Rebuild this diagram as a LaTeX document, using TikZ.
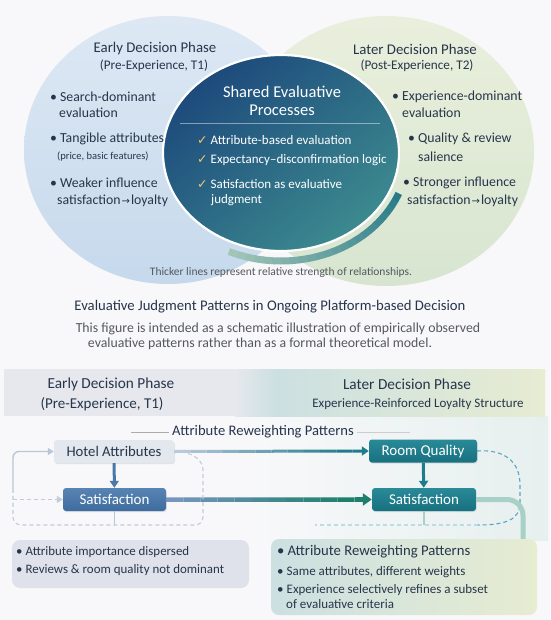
\documentclass[tikz,border=0pt]{standalone}
\usepackage{fontspec}
\setmainfont{Carlito}
\newfontfamily\symfont{DejaVu Sans}
\usetikzlibrary{shapes.geometric,arrows.meta,calc,shadows}

\definecolor{paper}{HTML}{F8F8FA}
\definecolor{ink}{HTML}{27354B}
\definecolor{greyink}{HTML}{54585E}
\definecolor{earlyA}{HTML}{DDE8F4}
\definecolor{earlyB}{HTML}{C6D9EC}
\definecolor{laterA}{HTML}{E9EFDA}
\definecolor{laterB}{HTML}{D4E4CC}
\definecolor{sharedA}{HTML}{1D4A7C}
\definecolor{sharedM}{HTML}{2A6790}
\definecolor{sharedB}{HTML}{3C8A8F}
\definecolor{arcteal}{HTML}{287A88}
\definecolor{tickgold}{HTML}{F2C66C}
\definecolor{steel}{HTML}{4A78A8}
\definecolor{steelA}{HTML}{5884B3}
\definecolor{steelB}{HTML}{3F6C9E}
\definecolor{tealbox}{HTML}{1F7C8C}
\definecolor{tealA}{HTML}{2A8A98}
\definecolor{tealB}{HTML}{17707F}
\definecolor{greenteal}{HTML}{1E7F6C}
\definecolor{paleblue}{HTML}{B8C8DA}
\definecolor{dashgrey}{HTML}{C3CCD8}
\definecolor{midblue}{HTML}{7696BD}
\definecolor{dashteal}{HTML}{55A6C6}
\definecolor{paleteal}{HTML}{A9D0C6}
\definecolor{boxgrey}{HTML}{DFE2EA}
\definecolor{bandgrey}{HTML}{E6E8EE}
\definecolor{bandteal}{HTML}{CCE0E1}
\definecolor{bandgreen}{HTML}{E7ECD2}
\definecolor{hotelfill}{HTML}{E3E7EE}
\definecolor{washteal}{HTML}{E6F0EE}

\begin{document}
\begin{tikzpicture}[x=1pt, y=-1pt,
  phase title/.style = {text=ink, font=\fontsize{14.8}{16}\selectfont},
  phase sub/.style   = {text=ink, font=\fontsize{13.2}{15}\selectfont},
  item text/.style   = {text=ink, anchor=west, inner sep=0pt, font=\fontsize{13.8}{16}\selectfont},
  item note/.style   = {text=ink, anchor=west, inner sep=0pt, font=\fontsize{10.5}{12}\selectfont},
  shared title/.style= {text=white, align=center, font=\fontsize{16.5}{18}\selectfont},
  check text/.style  = {text=white, anchor=west, inner sep=0pt, font=\fontsize{13}{15}\selectfont},
  flow box/.style    = {rounded corners=3pt, minimum height=23pt, inner sep=0pt,
                        font=\fontsize{15}{16}\selectfont,
                        drop shadow={opacity=0.18, shadow xshift=0.8pt, shadow yshift=-1.2pt}},
  list text/.style   = {text=ink, anchor=west, inner sep=0pt, font=\fontsize{12.9}{15}\selectfont},
  pale edge/.style   = {line width=1.4pt, paleblue},
  pale dash/.style   = {line width=1.1pt, dashgrey, dash pattern=on 4pt off 3pt},
  teal dash/.style   = {line width=1.1pt, dashteal, dash pattern=on 4pt off 3pt},
  fat tip/.style     = {-{Triangle[length=7pt, width=9pt]}},
  thin tip/.style    = {-{Triangle[length=6pt, width=7pt]}}]
\useasboundingbox (0,0) rectangle (550,620);
\fill[paper] (0,0) rectangle (550,620);

% upper part: the two phases and the shared core
\node[ellipse, minimum width=288pt, minimum height=268pt, top color=earlyA, bottom color=earlyB] (early) at (168,150) {};
\node[ellipse, minimum width=296pt, minimum height=270pt, top color=laterA, bottom color=laterB, opacity=0.9] (later) at (386,151) {};
\node[ellipse, draw=white, line width=2.2pt, minimum width=236pt, minimum height=196pt,
  top color=sharedA, middle color=sharedM, bottom color=sharedB, shading angle=40] (shared) at (281,153) {};
\foreach \a in {22,26,...,110}
  { \pgfmathtruncatemacro\p{100-(\a-22)*0.8}
    \draw[line width=7pt, arcteal!\p!laterB] ($(shared.center)+({127*cos(\a)},{108*sin(\a)})$)
      arc[start angle=\a, end angle=\a+4.2, x radius=127, y radius=108]; }

\node[phase title] (earlyT) at (155,49) {Early Decision Phase};
\node[phase sub] (earlyS) at (154,66) {(Pre-Experience, T1)};
\node[item text] (e1) at (50,97) {\textbullet\hspace{3pt}Search-dominant};
\node[item text] (e1b) at (59,113) {evaluation};
\node[item text] (e2) at (50,139) {\textbullet\hspace{3pt}Tangible attributes};
\node[item note] (e2b) at (57,157) {(price, basic features)};
\node[item text] (e3) at (50,183) {\textbullet\hspace{3pt}Weaker influence};
\node[item text] (e3b) at (57,201) {satisfaction\hspace{1pt}{\symfont\fontsize{10}{10}\selectfont →}\hspace{1pt}loyalty};

\node[phase title] (laterT) at (415,49) {Later Decision Phase};
\node[phase sub] (laterS) at (417,66) {(Post-Experience, T2)};
\node[item text] (l1) at (392,97) {\textbullet\hspace{3pt}Experience-dominant};
\node[item text] (l1b) at (402,113) {evaluation};
\node[item text] (l2) at (408,139) {\textbullet\hspace{3pt}Quality \& review};
\node[item text] (l2b) at (418,157) {salience};
\node[item text] (l3) at (403,183) {\textbullet\hspace{3pt}Stronger influence};
\node[item text] (l3b) at (407,201) {satisfaction\hspace{1pt}{\symfont\fontsize{10}{10}\selectfont →}\hspace{1pt}loyalty};

\node[shared title] (sharedT) at (282,101) {Shared Evaluative\\Processes};
\draw[white, opacity=0.45, line width=0.6pt] (180,123) -- (380,123);
\foreach \t/\y in {Attribute-based evaluation/140, Expectancy–disconfirmation logic/160, Satisfaction as evaluative/184}
  { \node[check text] at (197,\y) {{\symfont\color{tickgold}\fontsize{12.5}{13}\selectfont ✓}\hspace{3pt}\t}; }
\node[check text] (c3b) at (211,200) {judgment};

\node[text=greyink, font=\fontsize{11.5}{13}\selectfont] (note) at (281,272) {Thicker lines represent relative strength of relationships.};

% caption
\node[text=ink, font=\fontsize{14.7}{16}\selectfont] (title) at (270,306.5) {Evaluative Judgment Patterns in Ongoing Platform-based Decision};
\node[text=greyink, font=\fontsize{13.8}{15}\selectfont] (cap1) at (278,328.5) {This figure is intended as a schematic illustration of empirically observed};
\node[text=greyink, font=\fontsize{13.8}{15}\selectfont] (cap2) at (260,343.5) {evaluative patterns rather than as a formal theoretical model.};

% lower part: reweighting flow
\fill[left color=paper, right color=washteal] (250,416) rectangle (548,540);
\fill[bandgrey] (4,369) rectangle (545,416);
\fill[left color=bandgrey, right color=bandteal] (235,369) rectangle (275,416);
\fill[left color=bandteal, right color=bandgreen] (275,369) rectangle (545,416);
\node[text=ink, font=\fontsize{15.3}{17}\selectfont] (bandE) at (111,384) {Early Decision Phase};
\node[text=ink, font=\fontsize{15}{17}\selectfont] (bandES) at (102,404) {(Pre-Experience, T1)};
\node[text=ink, font=\fontsize{15.3}{17}\selectfont] (bandL) at (407,384) {Later Decision Phase};
\node[text=ink, font=\fontsize{13}{15}\selectfont] (bandLS) at (418,404) {Experience-Reinforced Loyalty Structure};

\node[text=ink, font=\fontsize{14.6}{16}\selectfont] (arp) at (263,432) {Attribute Reweighting Patterns};
\draw[greyink!50, line width=0.8pt] (131,432) -- (arp.west);
\draw[greyink!30, line width=0.8pt] (arp.east) -- (410,432);

\node[flow box, fill=hotelfill, text=ink, minimum width=120pt, font=\fontsize{14.7}{16}\selectfont] (hotel) at (114,451.5) {Hotel Attributes};
\node[flow box, top color=steelA, bottom color=steelB, text=white, minimum width=103pt] (satL) at (114.5,499.5) {Satisfaction};
\node[flow box, top color=tealA, bottom color=tealB, text=white, minimum width=108pt] (room) at (423,451) {Room Quality};
\node[flow box, top color=tealA, bottom color=tealB, text=white, minimum width=104pt] (satR) at (424,499.5) {Satisfaction};

\draw[fat tip, line width=3pt, steel] (hotel) -- (satL);
\draw[fat tip, line width=3pt, tealbox] (room) -- (satR);
\foreach \i in {0,...,10}
  { \pgfmathtruncatemacro\p{\i*10}
    \draw[line width=3pt, tealbox!\p!paleblue] ($(hotel.east)!\i/12!(room.west)$) -- ($(hotel.east)!\i/12+1/12!(room.west)$); }
\draw[fat tip, line width=3pt, tealbox] ($(hotel.east)!11/12!(room.west)$) -- (room.west);
\foreach \i in {0,...,10}
  { \pgfmathtruncatemacro\p{\i*10}
    \draw[line width=4.5pt, greenteal!\p!midblue] ($(satL.east)!\i/12!(satR.west)$) -- ($(satL.east)!\i/12+1/12!(satR.west)$); }
\draw[-{Triangle[length=9pt, width=12pt]}, line width=4.5pt, greenteal] ($(satL.east)!11/12!(satR.west)$) -- (satR.west);

\coordinate (loopL) at (13,492);
\draw[pale edge, rounded corners=6pt, thin tip] (loopL) -- (loopL |- hotel.west) -- (hotel.west);
\draw[pale dash, thin tip] (loopL |- satL.west) -- (satL.west);
\draw[pale dash, rounded corners=8pt] (hotel.east) .. controls (196,452) and (203,462) .. (203,478) -- (203,525) -- (13,525) -- (loopL);
\draw[pale edge] (satL.south) -- ++(0,14);

\draw[teal dash] (room.east) .. controls (505,449) and (520,462) .. (520,485) -- (520,503) .. controls (520,520) and (505,525) .. (478,525);
\draw[teal dash, dashteal!40] (478,525) -- (315,525);
\coordinate (tailR) at (523,539);
\draw[line width=5pt, paleteal, rounded corners=16pt] (satR.east) -- (tailR |- satR.east) -- (tailR);
\draw[line width=1.4pt, paleteal] (satR.south) -- ++(0,14);

\node[rounded corners=8pt, fill=boxgrey, minimum width=237pt, minimum height=48pt, inner sep=0pt] (boxL) at (130.5,564) {};
\node[rounded corners=8pt, left color=bandteal, right color=bandgreen, minimum width=266pt, minimum height=76pt, inner sep=0pt] (boxR) at (404,577) {};
\node[list text] (bl1) at (16,552) {\textbullet\hspace{3pt}Attribute importance dispersed};
\node[list text] (bl2) at (16,570.5) {\textbullet\hspace{3pt}Reviews \& room quality not dominant};
\node[list text, font=\fontsize{14.7}{16}\selectfont] (br1) at (277,552) {\textbullet\hspace{3pt}Attribute Reweighting Patterns};
\node[list text, font=\fontsize{13}{15}\selectfont] (br2) at (277,572) {\textbullet\hspace{3pt}Same attributes, different weights};
\node[list text, font=\fontsize{13}{15}\selectfont] (br3) at (277,590.5) {\textbullet\hspace{3pt}Experience selectively refines a subset};
\node[list text, font=\fontsize{13}{15}\selectfont] (br4) at (286,604.5) {of evaluative criteria};
\end{tikzpicture}
\end{document}
